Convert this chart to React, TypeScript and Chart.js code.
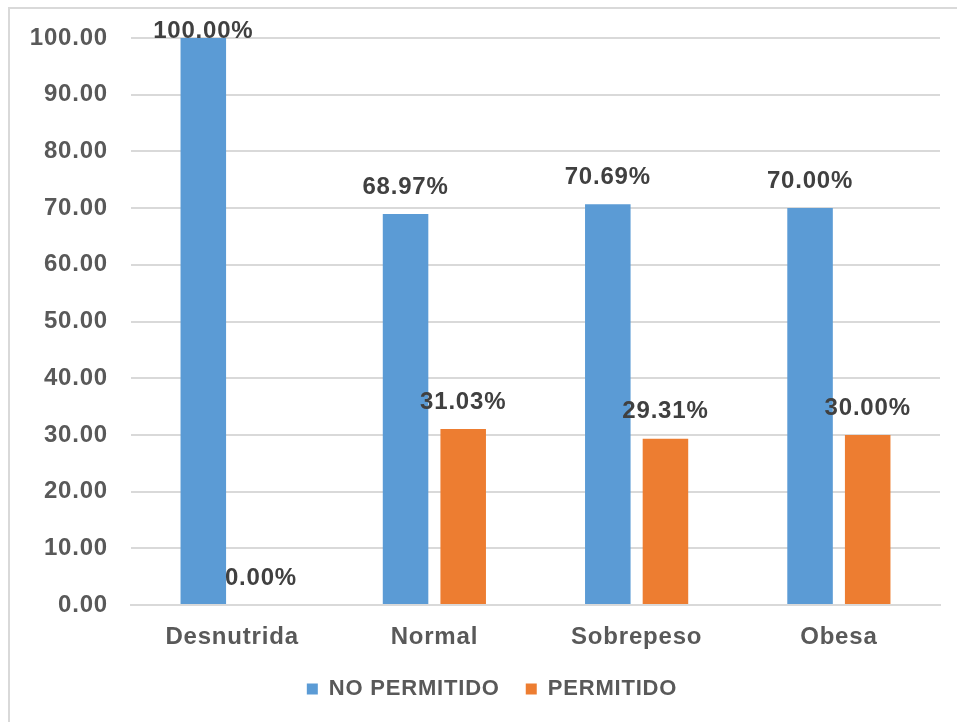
import React, { useEffect, useRef } from "react";
import { Chart, registerables } from "chart.js";

Chart.register(...registerables);

const categories = ["Desnutrida", "Normal", "Sobrepeso", "Obesa"];
const noPermitido = [100, 68.97, 70.69, 70.0];
const permitido = [0, 31.03, 29.31, 30.0];
const seriesNames = ["NO PERMITIDO", "PERMITIDO"];
const yMin = 0;
const yMax = 100;
const yStep = 10;

const FONT = "'Liberation Sans', Arial, sans-serif";
const SPACING = "0.8px";

const spacingPlugin = {
  id: "spacing",
  beforeLayout(chart: any) {
    chart.ctx.letterSpacing = SPACING;
  },
  afterLayout(chart: any) {
    if (chart.legend) {
      chart.legend.left += 22;
      chart.legend.right += 22;
    }
  },
  beforeDraw(chart: any) {
    chart.ctx.letterSpacing = SPACING;
  },
};

const labelPlugin = {
  id: "valueLabels",
  afterDatasetsDraw(chart: any) {
    const ctx = chart.ctx;
    ctx.save();
    ctx.letterSpacing = SPACING;
    ctx.font = `bold 24px ${FONT}`;
    ctx.fillStyle = "#404040";
    ctx.textAlign = "center";
    ctx.textBaseline = "middle";
    chart.data.datasets.forEach((ds: any, i: number) => {
      const meta = chart.getDatasetMeta(i);
      meta.data.forEach((el: any, j: number) => {
        const v = ds.data[j] as number;
        const y = Math.max(el.y - 27, 31);
        ctx.fillText(v.toFixed(2) + "%", el.x, y);
      });
    });
    ctx.restore();
  },
};

export default function App() {
  const ref = useRef<HTMLCanvasElement | null>(null);
  useEffect(() => {
    if (!ref.current) return;
    const chart = new Chart(ref.current, {
      type: "bar",
      data: {
        labels: categories,
        datasets: [
          {
            label: seriesNames[0],
            data: noPermitido,
            backgroundColor: "#5B9BD5",
            categoryPercentage: 0.57,
            barPercentage: 0.79,
          },
          {
            label: seriesNames[1],
            data: permitido,
            backgroundColor: "#ED7D31",
            categoryPercentage: 0.57,
            barPercentage: 0.79,
          },
        ],
      },
      options: {
        responsive: false,
        animation: false,
        layout: { padding: { left: 0, right: 17, top: 38, bottom: 12 } },
        plugins: {
          tooltip: { enabled: false },
          legend: {
            position: "bottom",
            labels: {
              font: { family: FONT, size: 22, weight: "bold" },
              color: "#595959",
              boxWidth: 11,
              boxHeight: 11,
              padding: 26,
              useBorderRadius: false,
            },
          },
        },
        scales: {
          x: {
            grid: { display: false, drawTicks: false },
            border: { display: true, color: "#d9d9d9", width: 2 },
            ticks: {
              font: { family: FONT, size: 24, weight: "bold" },
              color: "#595959",
              padding: 18,
            },
            afterFit(scale: any) {
              scale.height = 47;
            },
          },
          y: {
            min: yMin,
            max: yMax,
            grid: { color: "#d9d9d9", lineWidth: 2, drawTicks: false },
            border: { display: false },
            ticks: {
              stepSize: yStep,
              padding: 23,
              font: { family: FONT, size: 24, weight: "bold" },
              color: "#595959",
              callback: (v: any) => Number(v).toFixed(2),
            },
            afterFit(scale: any) {
              scale.width = 131;
            },
          },
        },
      },
      plugins: [spacingPlugin, labelPlugin],
    });
    return () => chart.destroy();
  }, []);
  return (
    <div style={{ position: "fixed", left: 0, top: 0, width: 957, height: 722, background: "#fff", overflow: "hidden" }}>
      <canvas ref={ref} width={957} height={722} style={{ position: "absolute", left: 0, top: 0 }} />
      <div style={{ position: "absolute", left: 8, top: 7, width: 960, height: 730, border: "2px solid #d9d9d9", boxSizing: "border-box", pointerEvents: "none" }} />
    </div>
  );
}
